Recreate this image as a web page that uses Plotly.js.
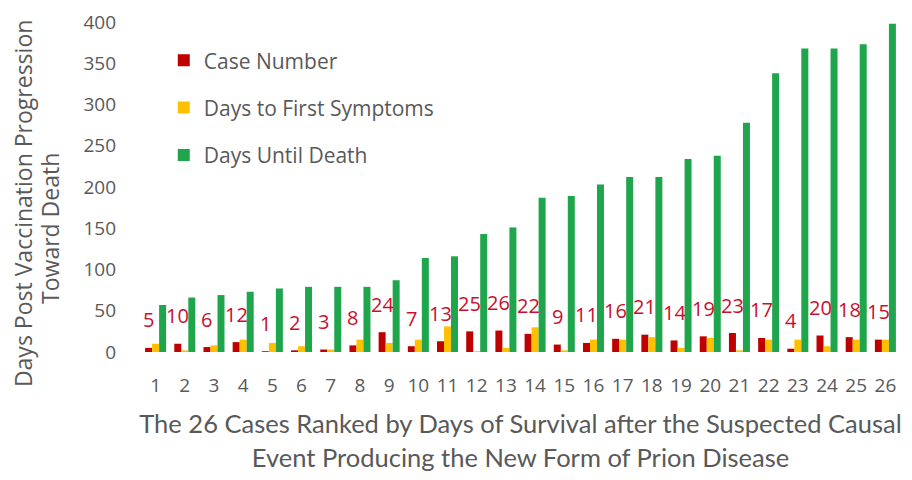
<!DOCTYPE html>
<html>
<head>
<meta charset="utf-8">
<script src="https://cdn.plot.ly/plotly-3.0.1.min.js"></script>
<style>
  html, body { margin: 0; padding: 0; background: #fff; }
  #chart { width: 912px; height: 480px; }
</style>
</head>
<body>
<div id="chart"></div>
<script>
// rank of each case by days of survival
let ranks = [1, 2, 3, 4, 5, 6, 7, 8, 9, 10, 11, 12, 13,
             14, 15, 16, 17, 18, 19, 20, 21, 22, 23, 24, 25, 26];

// series
let case_number = [5, 10, 6, 12, 1, 2, 3, 8, 24, 7, 13, 25, 26,
                   22, 9, 11, 16, 21, 14, 19, 23, 17, 4, 20, 18, 15];
let days_to_symptoms = [10, 2, 8, 15, 11, 7, 3, 15, 11, 15, 31, 1, 5,
                        30, 2, 15, 15, 18, 5, 17, 2, 15, 15, 7, 15, 15];
let days_to_death = [57, 66, 69, 73, 77, 79, 79, 79, 87, 114, 116, 143, 151,
                     187, 189, 203, 212, 212, 234, 238, 278, 338, 368, 368, 373, 398];

let y_ticks = [0, 50, 100, 150, 200, 250, 300, 350, 400];

let gray = "#595959";

let data = [
    {
        x: ranks, y: case_number, type: "bar", name: "Case Number",
        legendgroup: "a", marker: {color: "#C00000"}, hoverinfo: "skip"
    },
    {
        x: ranks, y: days_to_symptoms, type: "bar", name: "Days to First Symptoms",
        legendgroup: "b", marker: {color: "#FFC000"}, hoverinfo: "skip"
    },
    {
        x: ranks, y: days_to_death, type: "bar", name: "Days Until Death",
        legendgroup: "c", marker: {color: "#1FA64C"}, hoverinfo: "skip"
    }
];

// case number labels floating above the red bars
let annotations = [];
for (let i = 0; i < ranks.length; i++) {
    annotations.push({
        x: ranks[i],
        y: case_number[i],
        xref: "x",
        yref: "y",
        text: String(case_number[i]),
        showarrow: false,
        xshift: -7,
        yshift: 28,
        yanchor: "middle",
        font: {family: "Open Sans", size: 20, color: "#C8102E"}
    });
}

// y axis title, one annotation per line so each sits where the original does
let y_title_lines = ["Days Post Vaccination Progression", "Toward Death"];
let y_title_pos = [[-0.156, 0.45], [-0.119, 0.375]];
for (let i = 0; i < y_title_lines.length; i++) {
    annotations.push({
        xref: "paper", yref: "paper",
        x: y_title_pos[i][0], y: y_title_pos[i][1],
        xanchor: "center", yanchor: "middle",
        textangle: -90,
        text: y_title_lines[i],
        showarrow: false,
        font: {family: "Open Sans", size: 23, color: gray}
    });
}

let layout = {
    width: 912,
    height: 480,
    margin: {l: 141, r: 12, t: 22, b: 128},
    paper_bgcolor: "#fff",
    plot_bgcolor: "#fff",
    barmode: "group",
    bargap: 0.28,
    bargroupgap: 0,
    showlegend: true,
    legend: {
        x: 0.03, y: 0.945, xanchor: "left", yanchor: "top",
        traceorder: "grouped",
        tracegroupgap: 17,
        itemwidth: 30,
        font: {family: "Open Sans", size: 21, color: gray},
        bgcolor: "rgba(0,0,0,0)"
    },
    xaxis: {
        range: [0.5, 26.5],
        tickmode: "array",
        tickvals: ranks,
        ticktext: ranks.map(String),
        showgrid: false,
        zeroline: false,
        showline: false,
        ticks: "",
        fixedrange: true,
        ticklabelstandoff: 20,
        tickfont: {family: "Open Sans", size: 19, color: gray},
        title: {
            text: "The 26 Cases Ranked by Days of Survival after the Suspected Causal<br>Event Producing the New Form of Prion Disease",
            font: {family: "Lato", size: 25.5, color: gray},
            standoff: 18
        }
    },
    yaxis: {
        range: [0, 400],
        tickmode: "array",
        tickvals: y_ticks,
        showgrid: false,
        zeroline: false,
        showline: false,
        ticks: "",
        fixedrange: true,
        ticklabelstandoff: 24,
        tickfont: {family: "Open Sans", size: 19, color: gray}
    },
    annotations: annotations
};

let config = {displayModeBar: false, responsive: false, staticPlot: true};

Plotly.newPlot(document.getElementById("chart"), data, layout, config);
</script>
</body>
</html>
